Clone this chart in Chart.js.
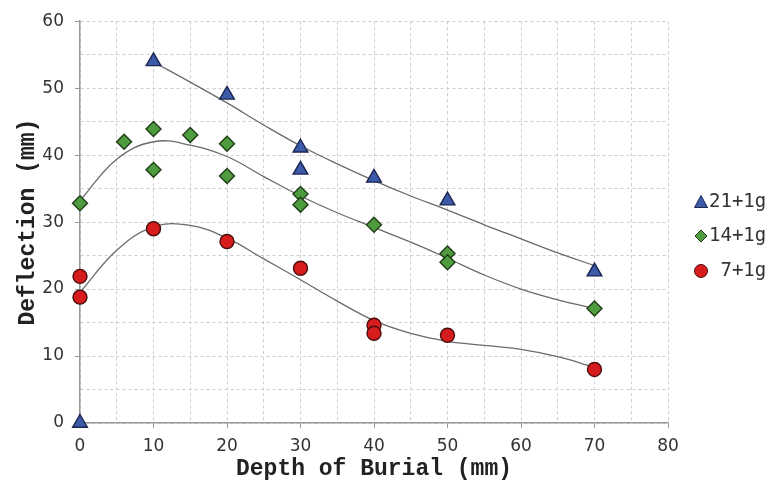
<!DOCTYPE html>
<html>
<head>
<meta charset="utf-8">
<script src="https://cdn.jsdelivr.net/npm/chart.js@4/dist/chart.umd.min.js"></script>
<style>
  html, body { margin: 0; padding: 0; background: #fff; }
  #wrap { width: 773px; height: 483px; position: relative; }
</style>
</head>
<body>
<div id="wrap"><canvas id="chart1" width="773" height="483"></canvas></div>
<script>
// measured points
const depth21 = [0, 10, 20, 30, 30, 40, 50, 70];
const defl21 = [0, 54.0, 49.0, 41.1, 37.8, 36.6, 33.2, 22.6];
const depth14 = [0, 6, 10, 10, 15, 20, 20, 30, 30, 40, 50, 50, 70];
const defl14 = [32.8, 42.0, 43.9, 37.8, 43.0, 41.7, 36.9, 34.2, 32.6, 29.6, 25.3, 24.0, 17.1];
const depth7 = [0, 0, 10, 20, 30, 40, 40, 50, 70];
const defl7 = [21.9, 18.8, 29.0, 27.1, 23.1, 14.6, 13.4, 13.1, 8.0];

// trend lines
const fitDepth21 = [10, 15, 20, 25, 30, 35, 40, 45, 50, 55, 60, 65, 70];
const fitDefl21 = [53.9, 50.9, 47.8, 44.5, 41.4, 38.7, 36.2, 33.9, 31.8, 29.6, 27.5, 25.4, 23.5];
const fitDepth = [0, 5, 10, 15, 20, 25, 30, 35, 40, 45, 50, 55, 60, 65, 70];
const fitDefl14 = [33.2, 39.4, 42.0, 41.5, 39.8, 36.8, 33.9, 31.4, 29.2, 27.0, 24.6, 22.1, 20.0, 18.4, 17.1];
const fitDefl7 = [19.5, 25.8, 29.3, 29.5, 27.6, 24.5, 21.4, 18.2, 15.3, 13.4, 12.2, 11.6, 11.0, 9.9, 8.3];

const seriesNames = ['21+1g', '14+1g', ' 7+1g'];

const toXY = (xs, ys) => xs.map((x, i) => ({ x: x, y: ys[i] }));

function trend(xs, ys) {
    return {
        data: toXY(xs, ys),
        showLine: true,
        borderColor: '#6a6a6a',
        borderWidth: 1.3,
        pointRadius: 0,
        tension: 0.4,
        order: 5
    };
}

// legend drawn by hand so it sits where the original has it
const sideLegend = {
    id: 'sideLegend',
    afterDraw(chart) {
        const ctx = chart.ctx;
        const rows = [
            { y: 202, shape: 'tri', fill: '#3d5aa8', stroke: '#1b2550' },
            { y: 236, shape: 'dia', fill: '#4f9b3f', stroke: '#1f3d16' },
            { y: 271, shape: 'cir', fill: '#d61c1c', stroke: '#4a0c0c' }
        ];
        ctx.save();
        rows.forEach((r, i) => {
            const x = 701;
            ctx.beginPath();
            if (r.shape === 'tri') {
                ctx.moveTo(x, r.y - 6.5);
                ctx.lineTo(x + 6.5, r.y + 5.5);
                ctx.lineTo(x - 6.5, r.y + 5.5);
                ctx.closePath();
            } else if (r.shape === 'dia') {
                ctx.moveTo(x, r.y - 6);
                ctx.lineTo(x + 6, r.y);
                ctx.lineTo(x, r.y + 6);
                ctx.lineTo(x - 6, r.y);
                ctx.closePath();
            } else {
                ctx.arc(x, r.y, 6.5, 0, Math.PI * 2);
            }
            ctx.fillStyle = r.fill;
            ctx.fill();
            ctx.lineWidth = 1;
            ctx.strokeStyle = r.stroke;
            ctx.stroke();
            ctx.fillStyle = '#333';
            ctx.font = '19px "DejaVu Sans Mono"';
            ctx.textBaseline = 'middle';
            ctx.textAlign = 'left';
            ctx.fillText(seriesNames[i], 709, r.y);
        });
        ctx.restore();
    }
};

const tickCol = (c) => (c.tick && c.tick.value % 10 === 0) ? '#999' : 'rgba(0,0,0,0)';

const config = {
    type: 'scatter',
    data: {
        datasets: [{
            label: seriesNames[0],
            data: toXY(depth21, defl21),
            pointStyle: 'triangle',
            pointRadius: 8.5,
            backgroundColor: '#3d5aa8',
            borderColor: '#1b2550',
            borderWidth: 1.4,
            clip: false,
            order: 1
        }, {
            label: seriesNames[1],
            data: toXY(depth14, defl14),
            pointStyle: 'rectRot',
            pointRadius: 7.5,
            backgroundColor: '#4f9b3f',
            borderColor: '#1f3d16',
            borderWidth: 1.4,
            clip: false,
            order: 1
        }, {
            label: seriesNames[2],
            data: toXY(depth7, defl7),
            pointStyle: 'circle',
            pointRadius: 7,
            backgroundColor: '#d61c1c',
            borderColor: '#4a0c0c',
            borderWidth: 1.4,
            clip: false,
            order: 1
        },
        trend(fitDepth21, fitDefl21),
        trend(fitDepth, fitDefl14),
        trend(fitDepth, fitDefl7)
        ]
    },
    options: {
        responsive: false,
        animation: false,
        layout: { padding: { top: 20, right: 105, left: 0, bottom: 0 } },
        scales: {
            x: {
                type: 'linear',
                min: 0,
                max: 80,
                afterFit: (s) => { s.height = 60; },
                border: { color: '#999', width: 1.5, dash: [3, 3] },
                grid: {
                    color: '#cdcdcd',
                    lineWidth: 1,
                    tickLength: 5,
                    tickColor: tickCol,
                    tickBorderDash: []
                },
                ticks: {
                    stepSize: 5,
                    autoSkip: false,
                    maxRotation: 0,
                    padding: 8,
                    color: '#333',
                    font: { family: '"DejaVu Sans"', size: 17 },
                    callback: (v) => v % 10 === 0 ? v : ''
                },
                title: {
                    display: true,
                    text: 'Depth of Burial (mm)',
                    color: '#222',
                    font: { family: '"Liberation Mono"', size: 23, weight: 'bold' },
                    padding: { top: 0, bottom: 0 }
                }
            },
            y: {
                min: 0,
                max: 60,
                afterFit: (s) => { s.width = 80; },
                border: { color: '#999', width: 1.5, dash: [3, 3] },
                grid: {
                    color: '#cdcdcd',
                    lineWidth: 1,
                    tickLength: 5,
                    tickColor: tickCol,
                    tickBorderDash: []
                },
                ticks: {
                    stepSize: 5,
                    autoSkip: false,
                    padding: 11,
                    color: '#333',
                    font: { family: '"DejaVu Sans"', size: 17 },
                    callback: (v) => v % 10 === 0 ? v : ''
                },
                title: {
                    display: true,
                    text: 'Deflection (mm)',
                    color: '#222',
                    font: { family: '"Liberation Mono"', size: 23, weight: 'bold' },
                    padding: { top: 14, bottom: 0 }
                }
            }
        },
        plugins: {
            legend: { display: false },
            tooltip: { enabled: false }
        }
    },
    plugins: [sideLegend]
};

const chart = new Chart(document.getElementById('chart1'), config);
</script>
</body>
</html>
